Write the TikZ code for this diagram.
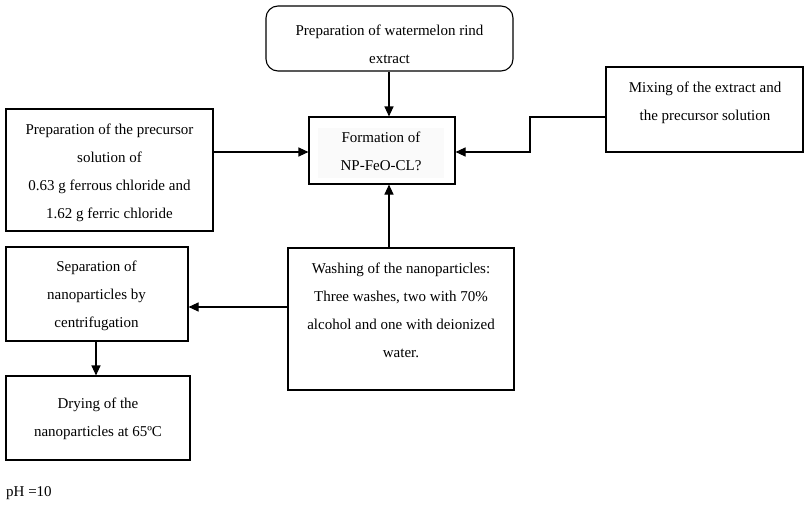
\documentclass[tikz,border=0pt]{standalone}
\usepackage{fontspec}
\setmainfont{Liberation Serif}
\usetikzlibrary{arrows.meta}
\begin{document}
\begin{tikzpicture}[x=1pt,y=-1pt,
  box/.style={draw,line width=1.1pt,inner sep=0pt},
  lbl/.style={align=center,font=\fontsize{15}{28}\selectfont,inner sep=0pt},
  arr/.style={line width=1.1pt,-{Triangle[length=10pt,width=9pt]}}]
\useasboundingbox (0,0) rectangle (809,506);
% boxes
\node[box,rounded corners=12pt,minimum width=247pt,minimum height=65pt] (top) at (389.5,38.5) {};
\node[box,minimum width=146pt,minimum height=67pt] (form) at (382,150.5) {};
\fill[black!2] (318,128) rectangle (444,178);
\node[box,minimum width=207pt,minimum height=122pt] (prec) at (109.5,170) {};
\node[box,minimum width=197pt,minimum height=85pt] (mix) at (704.5,109.5) {};
\node[box,minimum width=182pt,minimum height=94pt] (sep) at (97,294) {};
\node[box,minimum width=226pt,minimum height=142pt] (wash) at (401,319) {};
\node[box,minimum width=184pt,minimum height=84pt] (dry) at (98,418) {};
% texts
\node[lbl] (ttop) at (389.5,44) {Preparation of watermelon rind\\extract};
\node[lbl] (tform) at (381,151.5) {Formation of\\NP-FeO-CL?};
\node[lbl] (tprec) at (109.5,172.5) {Preparation of the precursor\\solution of\\0.63 g ferrous chloride and\\ 1.62 g ferric chloride};
\node[lbl] (tmix) at (705,103) {Mixing of the extract and\\the precursor solution};
\node[lbl] (tsep) at (96.5,295.5) {Separation of\\nanoparticles by\\centrifugation};
\node[lbl] (twash) at (401,310.5) {Washing of the nanoparticles:\\Three washes, two with 70\%\\alcohol and one with deionized\\water.};
\node[lbl] (tdry) at (98,419) {Drying of the\\nanoparticles at 65ºC};
\node[lbl,anchor=west] (tph) at (6,493) {pH =10};
% arrows
\draw[arr] (top.south -| 389,0) -- (form.north -| 389,0);
\draw[arr] (prec.east |- 0,152) -- (form.west |- 0,152);
\coordinate (bend) at (530,117);
\draw[arr] (mix.west |- 0,117) -- (bend) -- (530,152) -- (form.east |- 0,152);
\draw[arr] (wash.north -| 389,0) -- (form.south -| 389,0);
\draw[arr] (wash.west |- 0,307) -- (sep.east |- 0,307);
\draw[arr] (sep.south -| 96,0) -- (dry.north -| 96,0);
\end{tikzpicture}
\end{document}
